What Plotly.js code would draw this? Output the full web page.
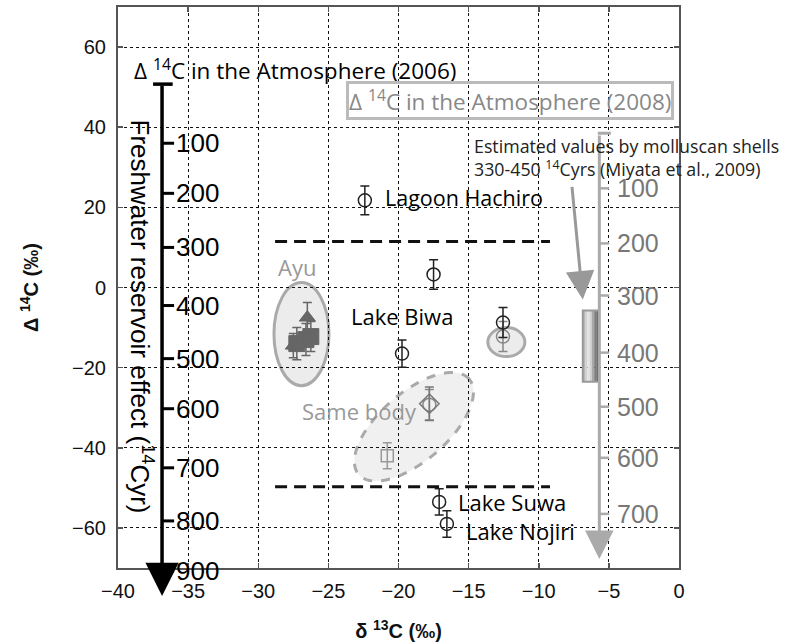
<!DOCTYPE html>
<html><head><meta charset="utf-8">
<script src="https://cdn.plot.ly/plotly-3.0.1.min.js"></script>
<style>body{margin:0;background:#fff}</style>
</head><body>
<div id="chart" style="width:792px;height:642px"></div>
<script>
// ---------------- data ----------------
// lake / lagoon samples, open black circles: δ13C, Δ14C, Δ14C error
const lakeX   = [-22.4, -17.5, -12.55, -19.75, -17.1, -16.55];
const lakeY   = [21.75, 3.25, -8.75, -16.5, -53.5, -59.0];
const lakeErr = [3.6, 3.7, 3.75, 3.4, 3.3, 3.3];

// gray open circles
const grayCircleX   = [-12.55, -17.8];
const grayCircleY   = [-12.25, -29.25];
const grayCircleErr = [3.75, 3.8];

// gray open diamond (same body)
const grayDiamondX   = [-17.8];
const grayDiamondY   = [-29.0];
const grayDiamondErr = [4.2];

// gray open square (same body)
const graySquareX   = [-20.8];
const graySquareY   = [-42.0];
const graySquareErr = [3.25];

// Ayu: filled squares and filled triangles
const ayuSquareX   = [-27.25, -26.6, -26.25];
const ayuSquareY   = [-14.0, -13.0, -12.25];
const ayuSquareErr = [4.0, 4.0, 3.75];
const ayuTriX   = [-26.5, -27.5];
const ayuTriY   = [-7.5, -14.5];
const ayuTriErr = [3.75, 3.0];

// freshwater reservoir effect scale vs atmosphere 2006 (years -> Δ14C)
const res2006Top   = 50.75;
const res2006Years = [100, 200, 300, 400, 500, 600, 700, 800, 900];
const res2006Delta = [36, 23.5, 10, -4.5, -17.75, -30.25, -45, -58.25, -70.75];
const res2006End   = -77;

// reservoir scale vs atmosphere 2008
const res2008Top   = 38.5;
const res2008Years = [100, 200, 300, 400, 500, 600, 700];
const res2008Delta = [24.75, 11, -2, -16.25, -29.75, -42.5, -56.5];
const res2008End   = -67.75;

// molluscan shell estimate (330-450 14C yrs) as Δ14C band
const shellBand = [-5.75, -23.5];

// dashed reference levels (Δ14C) and their δ13C extent
const refLevels = [11.5, -49.75];
const refSpan   = [-28.8, -9.2];

// ---------------- layout helpers ----------------
const X_RANGE = [-40, 0], Y_RANGE = [-70, 70];
const yPaper = v => (v - Y_RANGE[0]) / (Y_RANGE[1] - Y_RANGE[0]);
const PLOT_H = 561, PX_PER_X = 561 / 40, PX_PER_Y = 4;

const SANS = 'Liberation Sans, Arial, sans-serif';
const tickFont = {family: SANS, size: 20, color: '#111'};
const labFont = (size, color) => ({family: 'Open Sans, Noto Sans, sans-serif', size: size, color: color});

function errTrace(x, y, e, symbol, size, color, filled, lw) {
  return {
    type: 'scatter', mode: 'markers', x: x, y: y, cliponaxis: false,
    marker: {symbol: symbol, size: size, color: filled ? color : 'rgba(0,0,0,0)',
             line: {color: color, width: lw}},
    error_y: {type: 'data', array: e, visible: true, color: color, thickness: 1.5, width: 4.5},
    showlegend: false, hoverinfo: 'x+y'
  };
}

const data = [
  errTrace(ayuSquareX, ayuSquareY, ayuSquareErr, 'square', 16, '#666', true, 1),
  errTrace(ayuTriX, ayuTriY, ayuTriErr, 'triangle-up', 14, '#666', true, 1),
  errTrace(grayCircleX, grayCircleY, grayCircleErr, 'circle', 13, '#888', false, 1.5),
  errTrace(grayDiamondX, grayDiamondY, grayDiamondErr, 'diamond', 15, '#777', false, 1.5),
  errTrace(graySquareX, graySquareY, graySquareErr, 'square', 12, '#999', false, 1.5),
  errTrace(lakeX, lakeY, lakeErr, 'circle', 13, '#222', false, 1.5)
];

const shapes = [];
const annotations = [];

// ellipses (background groupings)
shapes.push({type: 'circle', xref: 'x', yref: 'y', x0: -28.88, x1: -24.96, y0: -24.5, y1: 1.25,
  fillcolor: '#ececec', line: {color: '#aaa', width: 3}, layer: 'below'});
shapes.push({type: 'circle', xref: 'x', yref: 'y', x0: -13.63, x1: -10.99, y0: -17.25, y1: -10,
  fillcolor: '#ececec', line: {color: '#aaa', width: 3}, layer: 'below'});
(function () {
  const cx = -18.9, cy = -34.75, a = 73, b = 34, ang = 40.8 * Math.PI / 180;
  let p = '';
  for (let i = 0; i <= 72; i++) {
    const t = i / 72 * 2 * Math.PI;
    const dx = a * Math.cos(t) * Math.cos(ang) - b * Math.sin(t) * Math.sin(ang);
    const dy = a * Math.cos(t) * Math.sin(ang) + b * Math.sin(t) * Math.cos(ang);
    const x = cx + dx / PX_PER_X, y = cy + dy / PX_PER_Y;
    p += (i === 0 ? 'M' : 'L') + x.toFixed(3) + ',' + y.toFixed(3);
  }
  shapes.push({type: 'path', xref: 'x', yref: 'y', path: p + 'Z', fillcolor: '#f0f0f0',
    line: {color: '#aaa', width: 3, dash: 'dash'}, layer: 'below'});
})();

// dashed reference lines
refLevels.forEach(v => shapes.push({type: 'line', xref: 'x', yref: 'y', x0: refSpan[0], x1: refSpan[1],
  y0: v, y1: v, line: {color: '#111', width: 3, dash: '12px,7px'}}));

// black reservoir scale (2006)
const bx = -36.86;
shapes.push({type: 'line', xref: 'x', yref: 'paper', x0: -37.5, x1: -36.1,
  y0: yPaper(res2006Top), y1: yPaper(res2006Top), line: {color: '#000', width: 3.5}});
res2006Years.forEach((yr, i) => {
  shapes.push({type: 'line', xref: 'x', yref: 'paper', x0: bx, x1: -36.0,
    y0: yPaper(res2006Delta[i]), y1: yPaper(res2006Delta[i]), line: {color: '#000', width: 3}});
  annotations.push({xref: 'x', yref: 'paper', x: -36.0, y: yPaper(res2006Delta[i]), xanchor: 'left',
    yanchor: 'middle', text: String(yr), showarrow: false,
    font: {family: SANS, size: 26, color: '#000'}});
});
annotations.push({xref: 'x', yref: 'paper', x: bx, y: yPaper(res2006End), showarrow: true,
  axref: 'pixel', ayref: 'pixel', ax: 0, ay: -(yPaper(res2006Top) - yPaper(res2006End)) * PLOT_H,
  arrowhead: 2, arrowsize: 1.9, arrowwidth: 3.5, arrowcolor: '#000', text: ''});

// gray reservoir scale (2008)
const gx = -5.68;
shapes.push({type: 'line', xref: 'x', yref: 'y', x0: -5.79, x1: -4.86,
  y0: res2008Top, y1: res2008Top, line: {color: '#aaa', width: 3}});
res2008Years.forEach((yr, i) => {
  shapes.push({type: 'line', xref: 'x', yref: 'y', x0: gx, x1: -4.98,
    y0: res2008Delta[i], y1: res2008Delta[i], line: {color: '#aaa', width: 2.5}});
  annotations.push({xref: 'x', yref: 'y', x: -4.55, y: res2008Delta[i], xanchor: 'left',
    yanchor: 'middle', text: String(yr), showarrow: false,
    font: {family: SANS, size: 25, color: '#777'}});
});
annotations.push({xref: 'x', yref: 'y', x: gx, y: res2008End, showarrow: true,
  axref: 'pixel', ayref: 'pixel', ax: 0, ay: -(res2008Top - res2008End) * PX_PER_Y,
  arrowhead: 2, arrowsize: 1.9, arrowwidth: 3, arrowcolor: '#aaa', text: ''});

// shell estimate band with horizontal gradient
const bandX0 = -6.86, bandX1 = -5.72;
const strips = ['#b8b8b8', '#d0d0d0', '#e2e2e2', '#cfcfcf', '#a8a8a8', '#7a7a7a', '#555'];
strips.forEach((c, i) => {
  const w = (bandX1 - bandX0) / strips.length;
  shapes.push({type: 'rect', xref: 'x', yref: 'y', x0: bandX0 + i * w, x1: bandX0 + (i + 1) * w,
    y0: shellBand[1], y1: shellBand[0], fillcolor: c, line: {width: 0}});
});
shapes.push({type: 'rect', xref: 'x', yref: 'y', x0: bandX0, x1: bandX1, y0: shellBand[1], y1: shellBand[0],
  fillcolor: 'rgba(0,0,0,0)', line: {color: '#999', width: 2}});

// arrow from the shell note to the band
annotations.push({xref: 'x', yref: 'y', x: -6.86, y: -3.0, showarrow: true,
  axref: 'x', ayref: 'y', ax: -7.64, ay: 25.5, arrowhead: 2, arrowsize: 1.9, arrowwidth: 3,
  arrowcolor: '#999', text: ''});

// texts
const txt = (x, y, text, font, extra) => annotations.push(Object.assign({xref: 'x', yref: 'y', x: x, y: y,
  text: text, showarrow: false, xanchor: 'left', yanchor: 'middle', font: font}, extra || {}));

txt(-27.4, 54.5, 'Δ <sup>14</sup>C in the Atmosphere (2006)', labFont(22.5, '#000'), {xanchor: 'center'});
txt(-12.06, 46.75, 'Δ <sup>14</sup>C in the Atmosphere (2008)', labFont(22.5, '#888'),
  {xanchor: 'center', bordercolor: '#bbb', borderwidth: 3, borderpad: 0});
txt(-14.77, 32.4, 'Estimated values by molluscan shells<br>330-450 <sup>14</sup>Cyrs (Miyata et al., 2009)',
  labFont(17.8, '#222'), {align: 'left'});
txt(-38.36, -7.25, 'Freshwater reservoir effect (<sup>14</sup>Cyr)',
  {family: SANS, size: 26, color: '#000'}, {xanchor: 'center', textangle: 90});
txt(-21.1, 22.5, 'Lagoon Hachiro', labFont(21.5, '#000'));
txt(-23.54, -7, 'Lake Biwa', labFont(22, '#000'));
txt(-28.74, 5, 'Ayu', labFont(22, '#999'));
txt(-27.03, -30.75, 'Same body', labFont(22, '#999'));
txt(-15.9, -53.5, 'Lake Suwa', labFont(22, '#000'));
txt(-15.34, -60.75, 'Lake Nojiri', labFont(22, '#000'));

const axisCommon = {
  showgrid: true, gridcolor: '#111', griddash: 'dot', gridwidth: 1,
  zeroline: false, showline: true, linecolor: '#555', linewidth: 2, mirror: 'ticks',
  ticks: 'inside', ticklen: 5, tickcolor: '#555', tickwidth: 1.5,
  tickfont: tickFont, fixedrange: true
};

const layout = {
  width: 792, height: 642,
  margin: {l: 118, r: 113, t: 7, b: 74},
  paper_bgcolor: '#fff', plot_bgcolor: '#fff',
  showlegend: false,
  xaxis: Object.assign({}, axisCommon, {range: X_RANGE, dtick: 5, tick0: 0, ticklabelstandoff: 4,
    title: {text: '<b>δ <sup>13</sup>C (‰)</b>', font: {family: SANS, size: 20, color: '#111'}, standoff: 25}}),
  yaxis: Object.assign({}, axisCommon, {range: Y_RANGE, dtick: 20, tick0: 0, ticklabelstandoff: 6,
    title: {text: '<b>Δ <sup>14</sup>C (‰)</b>', font: {family: SANS, size: 20, color: '#111'}, standoff: 28}}),
  shapes: shapes,
  annotations: annotations
};

Plotly.newPlot('chart', data, layout, {displayModeBar: false, staticPlot: true});
</script>
</body></html>
